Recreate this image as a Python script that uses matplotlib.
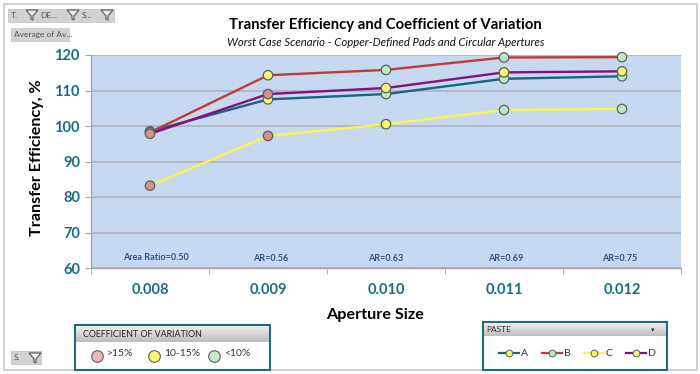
import matplotlib
matplotlib.use('Agg')
import matplotlib.pyplot as plt
from matplotlib.patches import Rectangle, Polygon

W, H = 700, 374

apertures = ['0.008', '0.009', '0.010', '0.011', '0.012']
area_ratios = ['Area Ratio=0.50', 'AR=0.56', 'AR=0.63', 'AR=0.69', 'AR=0.75']
yticks = [60, 70, 80, 90, 100, 110, 120]

series_names = ['A', 'B', 'C', 'D']
a_values = [98.5, 107.5, 109.0, 113.3, 114.0]
b_values = [98.2, 114.3, 115.8, 119.3, 119.4]
c_values = [83.2, 97.2, 100.5, 104.5, 104.8]
d_values = [97.8, 109.0, 110.7, 115.1, 115.4]

# coefficient of variation class per point: 0 = >15%, 1 = 10-15%, 2 = <10%
a_cov = [0, 1, 2, 2, 2]
b_cov = [0, 1, 2, 2, 2]
c_cov = [0, 0, 1, 2, 2]
d_cov = [0, 0, 1, 1, 1]

cov_labels = ['>15%', '10-15%', '<10%']
cov_colors = ['#DC8F8B', '#F8F56A', '#BCE8C6']
cov_legend_colors = ['#EDB5B3', '#FBF86E', '#C2ECCB']
line_colors = ['#17657F', '#C23B36', '#F7F550', '#87107A']
legend_markers = [1, 2, 1, 1]

teal = '#1B6B85'
navy = '#2F5287'
plt.rcParams['font.family'] = ['Lato', 'DejaVu Sans']

fig = plt.figure(figsize=(W / 100, H / 100), dpi=100)

# overlay in pixel coordinates for the pivot chart furniture
ov = fig.add_axes([0, 0, 1, 1], zorder=3)
ov.set_xlim(0, W)
ov.set_ylim(H, 0)
ov.axis('off')
ov.patch.set_alpha(0)

ax = fig.add_axes([91 / W, 1 - 268 / H, 590 / W, 213 / H], zorder=2)
ax.set_facecolor('#C6D9F1')
x = list(range(len(apertures)))
values = [a_values, b_values, c_values, d_values]
covs = [a_cov, b_cov, c_cov, d_cov]
for i in range(4):
    ax.plot(x, values[i], color=line_colors[i], lw=1.7, zorder=3)
    ax.scatter(x, values[i], s=46, c=[cov_colors[k] for k in covs[i]],
               edgecolors='#55625F', linewidths=0.9, zorder=4 + i, clip_on=False)

ax.set_xlim(-0.5, 4.5)
ax.set_ylim(60, 120)
ax.set_yticks(yticks)
ax.set_xticks(x)
ax.set_xticklabels(apertures)
ax.set_xticks([v + 0.5 for v in range(-1, 5)], minor=True)
ax.grid(axis='y', color='#ABAFB5', lw=1.1)
ax.set_axisbelow(True)
for name in ['top', 'right']:
    ax.spines[name].set_visible(False)
for name in ['left', 'bottom']:
    ax.spines[name].set_color('#A6A6A6')
    ax.spines[name].set_linewidth(1.0)
ax.tick_params(axis='x', which='major', length=0, pad=11, labelsize=10.5,
               labelcolor=teal)
ax.tick_params(axis='x', which='minor', length=4, color='#A6A6A6')
ax.tick_params(axis='y', length=4, color='#A6A6A6', pad=4, labelsize=10.5,
               labelcolor=teal)
for lab in ax.get_xticklabels() + ax.get_yticklabels():
    lab.set_fontweight('bold')

ar_y = [62.9, 62.6, 62.6, 62.8, 62.8]
ar_shift = [0.05, 0.02, 0.0, 0.01, -0.02]
for i in range(5):
    ax.text(x[i] + ar_shift[i], ar_y[i], area_ratios[i], ha='center', va='center',
            fontsize=6.5, fontweight='bold', color=navy)

# chart border
ov.add_patch(Rectangle((3.5, 3.5), 693, 366, fill=False, ec='#C4C4C4', lw=1.1))

ov.text(385, 25, 'Transfer Efficiency and Coefficient of Variation', ha='center',
        va='center', fontsize=10.7, fontweight='bold', color='black')
ov.text(386, 42, 'Worst Case Scenario - Copper-Defined Pads and Circular Apertures',
        ha='center', va='center', fontsize=8.2, style='italic', color='#111111')
ov.text(37, 158, 'Transfer Efficiency, %', rotation=90, ha='center', va='center',
        fontsize=11.6, fontweight='bold', color='black')
ov.text(375, 315, 'Aperture Size', ha='center', va='center', fontsize=11.6,
        fontweight='bold', color='black')


def funnel(px, py):
    ov.add_patch(Polygon([(px - 6, py - 5), (px + 6, py - 5), (px + 1, py + 1),
                          (px + 1, py + 5), (px - 1, py + 4), (px - 1, py + 1)],
                         fc='#EDEDED', ec='#5F6368', lw=0.9))


def button(px, py, w, h, label):
    ov.add_patch(Rectangle((px, py), w, h, fc='#D2D2D2', ec='#C2C2C2', lw=0.5))
    ov.text(px + 3, py + h / 2, label, ha='left', va='center', fontsize=6,
            color='#555555')


def header_bar(px, py, w, h):
    # light to dark grey, like the pivot field header
    for row in range(h):
        shade = 0.93 - 0.2 * row / h
        ov.add_patch(Rectangle((px, py + row), w, 1.2, fc=(shade, shade, shade),
                               ec='none', zorder=3))


# field buttons
button(8, 9, 106, 13, 'T.')
ov.text(40, 15.5, 'DE...', ha='left', va='center', fontsize=6, color='#555555')
ov.text(82, 15.5, 'S...', ha='left', va='center', fontsize=6, color='#555555')
funnel(32, 15)
funnel(73, 15)
funnel(107, 15)
button(11, 28, 58, 13, 'Average of Av...')
button(11, 351, 30, 13, 'S.')
funnel(35, 358)

# coefficient of variation panel
ov.add_patch(Rectangle((75, 325), 195, 45, fc='white', ec=teal, lw=1.5, zorder=2))
header_bar(76, 326, 193, 16)
ov.text(83, 334.5, 'COEFFICIENT OF VARIATION', ha='left', va='center',
        fontsize=6.4, color='#222222', zorder=4)
cov_x = [97, 154, 214]
for i in range(3):
    ov.scatter([cov_x[i]], [355.5], s=70, color=cov_legend_colors[i],
               edgecolors='#55625F', linewidths=0.8, zorder=4)
    ov.text(cov_x[i] + 10, 353, cov_labels[i], ha='left', va='center', fontsize=7.5,
            color='#333333', zorder=4)

# paste panel
ov.add_patch(Rectangle((483, 322), 184, 48, fc='white', ec=teal, lw=1.5, zorder=2))
header_bar(484, 323, 182, 13)
ov.text(486, 329.5, 'PASTE', ha='left', va='center', fontsize=6, color='#333333',
        zorder=4)
ov.text(653, 329.5, '▾', ha='center', va='center', fontsize=5, color='#333333',
        zorder=4)
leg_x = [509, 552, 594, 636]
for i in range(4):
    ov.plot([leg_x[i] - 10, leg_x[i] + 10], [353, 353], color=line_colors[i], lw=1.6,
            zorder=4)
    ov.scatter([leg_x[i]], [353], s=24, color=cov_colors[legend_markers[i]],
               edgecolors='#55625F', linewidths=0.7, zorder=5)
    ov.text(leg_x[i] + 12, 353, series_names[i], ha='left', va='center', fontsize=7.5,
            color='#333333', zorder=5)

fig.savefig('out.png', dpi=100)
